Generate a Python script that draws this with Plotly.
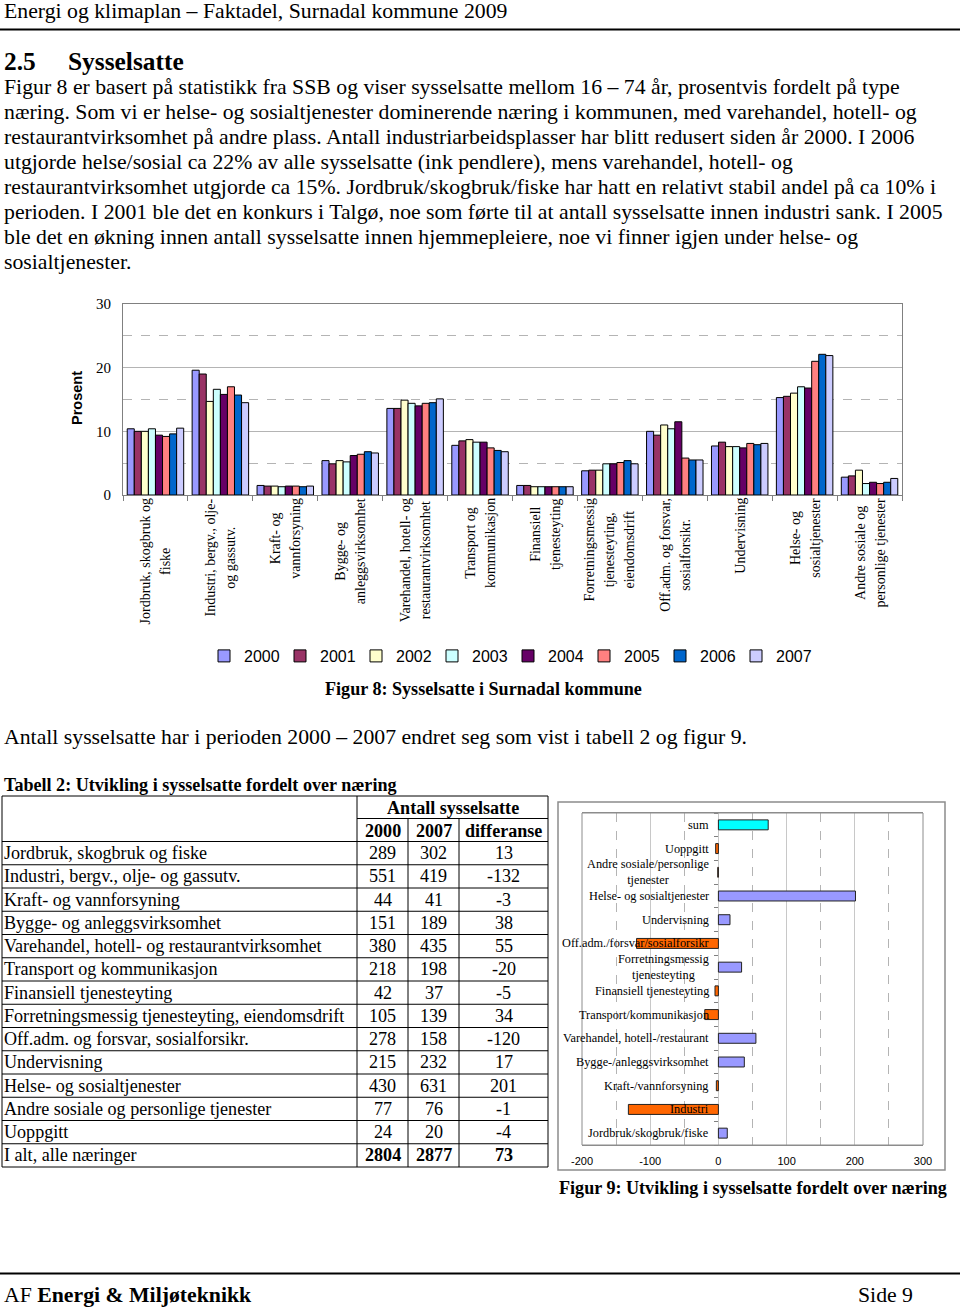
import plotly.graph_objects as go

W, H = 960, 1308
SERIF = "Liberation Serif, Times New Roman, serif"
SANS = "Liberation Sans, Arial, sans-serif"

# ---------------- data ----------------
years = ["2000", "2001", "2002", "2003", "2004", "2005", "2006", "2007"]
year_colors = ["#9999FF", "#993366", "#FFFFCC", "#CCFFFF", "#660066", "#FF8080", "#0066CC", "#CCCCFF"]

fig8_categories = [
    "Jordbruk, skogbruk og<br>fiske",
    "Industri, bergv., olje-<br>og gassutv.",
    "Kraft- og<br>vannforsyning",
    "Bygge- og<br>anleggsvirksomhet",
    "Varehandel, hotell- og<br>restaurantvirksomhet",
    "Transport og<br>kommunikasjon",
    "Finansiell<br>tjenesteyting",
    "Forretningsmessig<br>tjenesteyting,<br>eiendomsdrift",
    "Off.adm. og forsvar,<br>sosialforsikr.",
    "Undervisning",
    "Helse- og<br>sosialtjenester",
    "Andre sosiale og<br>personlige tjenester",
]
pct_2000 = [10.4, 19.6, 1.5, 5.4, 13.6, 7.8, 1.5, 3.8, 10.0, 7.7, 15.3, 2.8]
pct_2001 = [10.0, 19.0, 1.4, 4.9, 13.6, 8.5, 1.5, 3.9, 9.4, 8.3, 15.5, 3.0]
pct_2002 = [10.0, 14.7, 1.4, 5.4, 14.9, 8.7, 1.3, 3.9, 11.0, 7.6, 16.0, 3.9]
pct_2003 = [10.4, 16.6, 1.3, 5.2, 14.4, 8.3, 1.3, 4.9, 10.4, 7.6, 17.0, 1.8]
pct_2004 = [9.4, 15.8, 1.4, 6.2, 14.0, 8.3, 1.3, 4.9, 11.5, 7.4, 16.8, 2.0]
pct_2005 = [9.2, 17.0, 1.4, 6.4, 14.4, 7.4, 1.3, 5.1, 5.8, 8.1, 21.0, 1.8]
pct_2006 = [9.6, 15.7, 1.3, 6.8, 14.5, 7.0, 1.3, 5.4, 5.5, 7.9, 22.1, 2.0]
pct_2007 = [10.5, 14.5, 1.4, 6.6, 15.1, 6.8, 1.3, 4.9, 5.5, 8.1, 21.9, 2.6]
pct_series = [pct_2000, pct_2001, pct_2002, pct_2003, pct_2004, pct_2005, pct_2006, pct_2007]

table_rows = [
    "Jordbruk, skogbruk og fiske",
    "Industri, bergv., olje- og gassutv.",
    "Kraft- og vannforsyning",
    "Bygge- og anleggsvirksomhet",
    "Varehandel, hotell- og restaurantvirksomhet",
    "Transport og kommunikasjon",
    "Finansiell tjenesteyting",
    "Forretningsmessig tjenesteyting, eiendomsdrift",
    "Off.adm. og forsvar, sosialforsikr.",
    "Undervisning",
    "Helse- og sosialtjenester",
    "Andre sosiale og personlige tjenester",
    "Uoppgitt",
    "I alt, alle næringer",
]
count_2000 = [289, 551, 44, 151, 380, 218, 42, 105, 278, 215, 430, 77, 24, 2804]
count_2007 = [302, 419, 41, 189, 435, 198, 37, 139, 158, 232, 631, 76, 20, 2877]
difference = [13, -132, -3, 38, 55, -20, -5, 34, -120, 17, 201, -1, -4, 73]

fig9_labels = [
    "Jordbruk/skogbruk/fiske",
    "Industri",
    "Kraft-/vannforsyning",
    "Bygge-/anleggsvirksomhet",
    "Varehandel, hotell-/restaurant",
    "Transport/kommunikasjon",
    "Finansiell tjenesteyting",
    "Forretningsmessig<br>tjenesteyting",
    "Off.adm./forsvar/sosialforsikr",
    "Undervisning",
    "Helse- og sosialtjenester",
    "Andre sosiale/personlige<br>tjenester",
    "Uoppgitt",
    "sum",
]
fig9_values = difference  # same order as fig9_labels
fig9_ticks = [-200, -100, 0, 100, 200, 300]
fig9_ticktext = ["-200", "-100", "0", "100", "200", "300"]

body_lines = [
    "Figur 8 er basert på statistikk fra SSB og viser sysselsatte mellom 16 – 74 år, prosentvis fordelt på type",
    "næring. Som vi er helse- og sosialtjenester dominerende næring i kommunen, med varehandel, hotell- og",
    "restaurantvirksomhet på andre plass. Antall industriarbeidsplasser har blitt redusert siden år 2000. I 2006",
    "utgjorde helse/sosial ca 22% av alle sysselsatte (ink pendlere), mens varehandel, hotell- og",
    "restaurantvirksomhet utgjorde ca 15%. Jordbruk/skogbruk/fiske har hatt en relativt stabil andel på ca 10% i",
    "perioden. I 2001 ble det en konkurs i Talgø, noe som førte til at antall sysselsatte innen industri sank. I 2005",
    "ble det en økning innen antall sysselsatte innen hjemmepleiere, noe vi finner igjen under helse- og",
    "sosialtjenester.",
]

P12 = 21.75  # 12 pt body text
P10 = 18.1   # 10 pt text
P14 = 25.4   # 14 pt heading


def px(x):
    return x / W


def py(y):
    return 1 - y / H


fig = go.Figure()

# ---------------- Figure 8: grouped bars ----------------
for name, vals, col in zip(years, pct_series, year_colors):
    fig.add_trace(go.Bar(
        x=fig8_categories, y=vals, name=name, marker=dict(color=col, line=dict(color="#000000", width=1)),
        xaxis="x", yaxis="y", hoverinfo="skip",
    ))

# ---------------- Figure 9: horizontal bars ----------------
bar_colors = []
for lab, v in zip(fig9_labels, fig9_values):
    if lab == "sum":
        bar_colors.append("#00FFFF")
    elif v < 0:
        bar_colors.append("#FF6600")
    else:
        bar_colors.append("#9999FF")
fig.add_trace(go.Bar(
    y=fig9_labels, x=fig9_values, orientation="h", width=0.42, showlegend=False,
    marker=dict(color=bar_colors, line=dict(color="#222222", width=1)),
    xaxis="x2", yaxis="y2", hoverinfo="skip",
))

annotations = []
shapes = []


def text(x, y, s, size, bold=False, family=SERIF, xanchor="left", yanchor="middle", **kw):
    if bold:
        s = "<b>" + s + "</b>"
    annotations.append(dict(
        x=px(x), y=py(y), xref="paper", yref="paper", text=s, showarrow=False, borderpad=0,
        xanchor=xanchor, yanchor=yanchor, font=dict(family=family, size=size, color="#000000"), **kw))


def hline(x0, x1, y, width=1, color="#000000"):
    shapes.append(dict(type="line", xref="paper", yref="paper", x0=px(x0), x1=px(x1), y0=py(y), y1=py(y),
                       line=dict(color=color, width=width)))


def vline(x, y0, y1, width=1, color="#000000"):
    shapes.append(dict(type="line", xref="paper", yref="paper", x0=px(x), x1=px(x), y0=py(y0), y1=py(y1),
                       line=dict(color=color, width=width)))


# page header/footer
text(3, 11, "Energi og klimaplan – Faktadel, Surnadal kommune 2009", P12)
hline(0, 960, 29.5, width=2)
text(3, 61, "2.5", P14, bold=True)
text(67, 61, "Sysselsatte", P14, bold=True)
for i, line in enumerate(body_lines):
    text(3, 87 + 25 * i, line, P12)

# fig 8 category labels (rotated); outer font size sets the 20px line pitch
for cat in fig8_categories:
    styled = "<br>".join('<span style="font-size:14px">' + part + "</span>" for part in cat.split("<br>"))
    annotations.append(dict(
        x=cat, y=py(497), xref="x", yref="paper", text=styled, showarrow=False, textangle=-90,
        xanchor="center", yanchor="top", align="center", borderpad=0,
        font=dict(family=SERIF, size=15.4, color="#000000")))
text(77, 398, "Prosent", 14.5, bold=True, family=SANS, xanchor="center", textangle=-90)
text(483, 689, "Figur 8: Sysselsatte i Surnadal kommune", P10, bold=True, xanchor="center")

text(3, 737, "Antall sysselsatte har i perioden 2000 – 2007 endret seg som vist i tabell 2 og figur 9.", P12)
text(3, 785, "Tabell 2: Utvikling i sysselsatte fordelt over næring", P10, bold=True)

# ---------------- table ----------------
tl, c1, c2, c3, tr = 2, 357, 408, 459, 548
ttop, h1, h2 = 796, 818.5, 841.5
rh = 23.25
tbot = h2 + rh * len(table_rows)
hline(tl, tr, ttop)
hline(c1, tr, h1)
hline(tl, tr, h2)
for i in range(1, len(table_rows) + 1):
    hline(tl, tr, h2 + rh * i)
vline(tl, ttop, tbot)
vline(c1, ttop, tbot)
vline(c2, h1, tbot)
vline(c3, h1, tbot)
vline(tr, ttop, tbot)
text((c1 + tr) / 2, (ttop + h1) / 2 + 1, "Antall sysselsatte", P10, bold=True, xanchor="center")
text((c1 + c2) / 2, (h1 + h2) / 2 + 1, "2000", P10, bold=True, xanchor="center")
text((c2 + c3) / 2, (h1 + h2) / 2 + 1, "2007", P10, bold=True, xanchor="center")
text((c3 + tr) / 2, (h1 + h2) / 2 + 1, "differanse", P10, bold=True, xanchor="center")
for i, (lab, a, b, d) in enumerate(zip(table_rows, count_2000, count_2007, difference)):
    yc = h2 + rh * (i + 0.5)
    last = i == len(table_rows) - 1
    text(tl + 1, yc, lab, P10)
    text((c1 + c2) / 2, yc, str(a), P10, bold=last, xanchor="center")
    text((c2 + c3) / 2, yc, str(b), P10, bold=last, xanchor="center")
    text((c3 + tr) / 2, yc, str(d), P10, bold=last, xanchor="center")

# ---------------- fig 9 box & labels ----------------
shapes.append(dict(type="rect", xref="paper", yref="paper", x0=px(558), x1=px(945), y0=py(802), y1=py(1170),
                   line=dict(color="#8c8c8c", width=1.5), layer="below"))
for lab in fig9_labels:
    annotations.append(dict(
        x=0, y=lab, xref="x2", yref="y2", text=lab, showarrow=False, xanchor="right", yanchor="middle",
        xshift=-8, align="center", borderpad=0, font=dict(family=SERIF, size=12.3, color="#000000")))
text(558, 1188, "Figur 9: Utvikling i sysselsatte fordelt over næring", P10, bold=True)

hline(0, 960, 1273.5, width=2)
text(3, 1295, "AF <b>Energi &amp; Miljøteknikk</b>", P12)
text(914, 1295, "Side 9", P12, xanchor="right")

x2_domain = [px(582), px(923)]
xmin, xmax = -200, 300
zero_pos = x2_domain[0] + (0 - xmin) / (xmax - xmin) * (x2_domain[1] - x2_domain[0])

fig.update_layout(
    width=W, height=H, autosize=False, margin=dict(l=0, r=0, t=0, b=0, pad=0, autoexpand=False),
    paper_bgcolor="#FFFFFF", plot_bgcolor="#FFFFFF",
    font=dict(family=SERIF, color="#000000"),
    barmode="group", bargap=0.13, bargroupgap=0,
    xaxis=dict(domain=[px(123), px(902)], anchor="y", showticklabels=False, ticks="outside",
               tickson="boundaries", ticklen=5, tickcolor="#808080", showline=True, linecolor="#808080",
               mirror=True, showgrid=False, fixedrange=True, automargin=False),
    yaxis=dict(domain=[py(495), py(304)], anchor="x", range=[0, 30], dtick=10, showgrid=True,
               gridcolor="#b4b4b4", showline=True, linecolor="#808080", mirror=True, zeroline=False,
               ticks="", tickfont=dict(family=SERIF, size=15, color="#000000"), ticklabelstandoff=8,
               minor=dict(dtick=5, showgrid=True, gridcolor="#b4b4b4", griddash="dash"), fixedrange=True,
               automargin=False),
    xaxis2=dict(domain=x2_domain, anchor="y2", range=[xmin, xmax], tickmode="array",
                tickvals=fig9_ticks, ticktext=fig9_ticktext, showgrid=True,
                gridcolor="#c8c8c8", zeroline=False, showline=True, linecolor="#8c8c8c", mirror=True,
                ticks="", tickfont=dict(family=SANS, size=11, color="#000000"), ticklabelstandoff=6,
                minor=dict(dtick=50, showgrid=True, gridcolor="#b4b4b4", griddash="dash"), fixedrange=True,
                automargin=False),
    yaxis2=dict(domain=[py(1145), py(813)], anchor="free", position=zero_pos, showticklabels=False,
                ticks="outside", tickson="boundaries", ticklen=4, tickcolor="#808080", showline=False,
                showgrid=False, categoryorder="array", categoryarray=fig9_labels, fixedrange=True,
                automargin=False),
    legend=dict(orientation="h", x=px(204), y=py(656), xanchor="left", yanchor="middle",
                font=dict(family=SANS, size=16, color="#000000"), itemwidth=30,
                entrywidth=31, entrywidthmode="pixels", bgcolor="rgba(0,0,0,0)"),
    annotations=annotations, shapes=shapes,
)

# plot area border for fig 9
fig.add_shape(type="rect", xref="x2 domain", yref="y2 domain", x0=0, x1=1, y0=0, y1=1,
              line=dict(color="#8c8c8c", width=1))

css_js = (
    "var s=document.createElement('style');"
    "s.innerHTML='html,body{margin:0!important;padding:0!important;overflow:hidden!important;background:#fff;}';"
    "document.head.appendChild(s);"
)
fig.write_html("out.html", config={"displayModeBar": False, "responsive": False}, post_script=css_js)
